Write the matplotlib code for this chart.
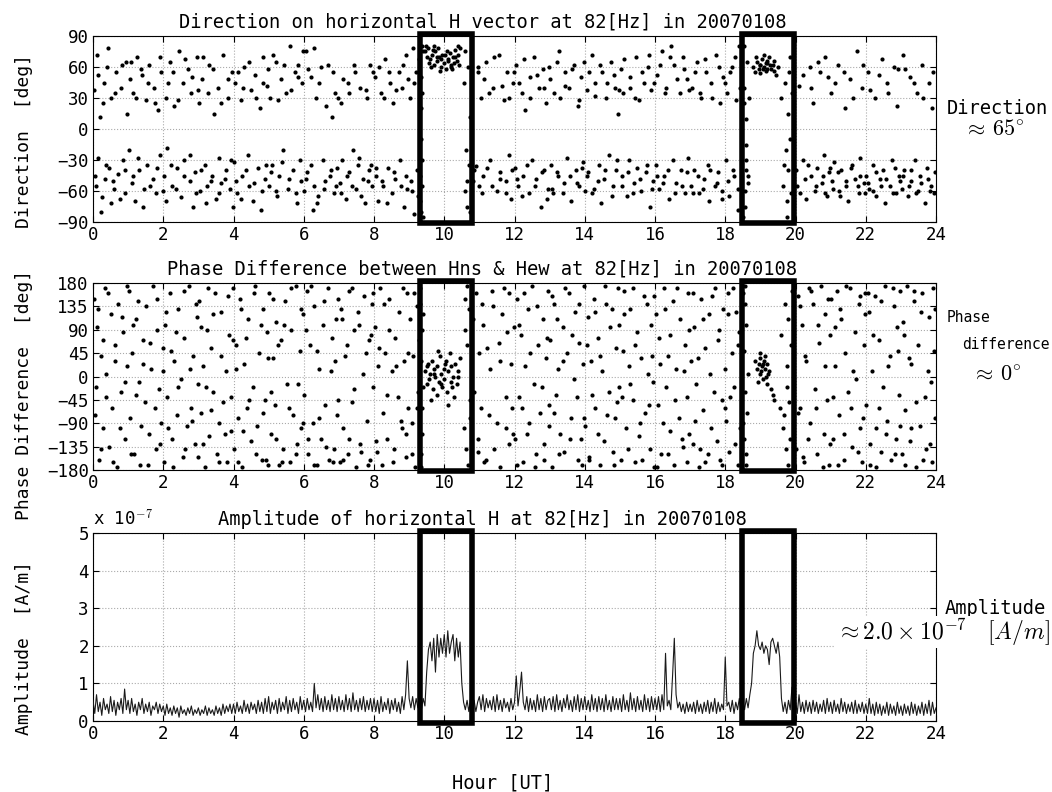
import numpy as np
import matplotlib.pyplot as plt
from matplotlib.patches import Rectangle

plt.rcParams['font.family'] = ['DejaVu Sans Mono']
plt.rcParams['mathtext.fontset'] = 'cm'

# --- direction of horizontal H vector [deg], (hour, deg) ---
dir_quiet = [
    (0.03, 38), (0.08, -55), (0.12, 72), (0.15, -28), (0.2, 12), (0.25, -66), (0.3, 45), (0.33, -48), (0.4, 60), (0.45, -38),
    (0.5, 30), (0.52, -72), (0.6, -58), (0.65, 55), (0.7, -44), (0.8, 40), (0.85, -30), (0.9, -62), (0.95, 65),
    (1.02, -20), (1.05, 48), (1.1, -52), (1.15, 35), (1.2, -70), (1.25, 70), (1.3, -40), (1.4, 52), (1.45, -58), (1.5, 28),
    (1.55, -35), (1.6, 62), (1.7, -48), (1.75, 40), (1.8, -62), (1.85, 18), (1.9, -25), (1.95, 55),
    (2.02, -45), (2.08, 30), (2.12, -18), (2.2, 65), (2.25, -55), (2.3, 22), (2.4, -38), (2.45, 75), (2.5, -66), (2.55, 45),
    (2.6, -30), (2.7, 58), (2.75, -50), (2.8, 35), (2.85, -75), (2.9, -42), (2.95, 70),
    (3.02, 25), (3.05, -60), (3.1, 48), (3.2, -35), (3.25, -55), (3.3, 62), (3.4, -45), (3.45, 15), (3.5, -68), (3.55, 40),
    (3.6, -28), (3.65, -52), (3.7, 72), (3.8, -40), (3.85, 30), (3.9, -58), (3.95, 55),
    (4.02, -32), (4.05, 45), (4.1, -62), (4.2, 28), (4.25, -45), (4.3, 60), (4.4, -25), (4.45, -55), (4.5, 38), (4.55, -70),
    (4.6, 52), (4.7, -38), (4.75, 20), (4.8, -60), (4.85, 70), (4.9, -48), (4.95, 42),
    (5.02, -55), (5.05, 30), (5.1, -35), (5.2, 65), (5.25, -65), (5.3, -45), (5.35, 48), (5.4, -20), (5.5, 35), (5.55, -58),
    (5.6, 80), (5.7, -40), (5.75, 55), (5.8, -72), (5.85, 62), (5.9, -30), (5.95, 45),
    (6.02, -60), (6.05, 75), (6.1, -42), (6.2, 50), (6.25, -78), (6.3, -55), (6.35, 30), (6.4, -65), (6.5, 60), (6.55, -30),
    (6.6, -50), (6.7, 62), (6.75, -45), (6.8, 12), (6.85, -62), (6.9, 35), (6.95, -38),
    (7.02, -52), (7.05, 25), (7.1, -30), (7.2, -68), (7.25, 45), (7.3, -42), (7.4, -20), (7.45, 55), (7.5, -58), (7.55, -35),
    (7.6, 40), (7.7, -48), (7.75, -72), (7.8, 30), (7.85, -40), (7.9, 62), (7.95, -55),
    (8.02, 50), (8.05, -45), (8.1, -70), (8.2, 35), (8.25, -55), (8.3, 68), (8.4, -38), (8.45, 45), (8.5, -62), (8.55, 25),
    (8.6, -48), (8.7, 55), (8.75, -30), (8.8, 40), (8.85, -75), (8.9, 72), (8.95, -58),
    (9.02, 30), (9.05, -50), (9.1, 78), (9.15, -82), (9.2, 55), (9.25, -65),
    (10.85, -40), (10.9, -36), (10.95, 55), (11.0, -55), (11.05, 30), (11.1, -45), (11.2, 65), (11.3, -30), (11.4, 40),
    (11.5, -60), (11.55, 72), (11.6, -42), (11.7, 28), (11.75, -50), (11.8, 55), (11.85, -25), (11.9, -68), (11.95, 45),
    (12.02, -38), (12.05, 62), (12.1, -55), (12.2, 35), (12.25, -45), (12.3, 18), (12.4, -62), (12.45, 50), (12.5, -30),
    (12.55, 70), (12.6, -48), (12.7, 40), (12.75, -75), (12.8, 58), (12.85, -40), (12.9, 25), (12.95, -58),
    (13.02, 48), (13.05, -35), (13.1, -62), (13.2, 65), (13.25, -45), (13.3, 30), (13.4, -52), (13.45, 55), (13.5, -28),
    (13.55, 40), (13.6, -70), (13.7, 62), (13.75, -40), (13.8, 22), (13.85, -55), (13.9, 50), (13.95, -32),
    (14.02, -60), (14.05, 38), (14.1, -42), (14.2, 72), (14.25, -58), (14.3, 45), (14.4, -35), (14.45, -72), (14.5, 55),
    (14.55, -48), (14.6, 30), (14.7, -25), (14.75, 65), (14.8, -55), (14.85, 40), (14.9, -40), (14.95, 15),
    (15.02, 58), (15.05, -45), (15.1, 35), (15.2, -65), (15.25, -30), (15.3, 50), (15.4, -52), (15.45, 70), (15.5, -38),
    (15.55, 28), (15.6, -60), (15.7, 45), (15.75, -42), (15.8, 60), (15.85, -75), (15.9, 38), (15.95, -50),
    (16.02, -35), (16.05, 52), (16.1, -58), (16.2, 75), (16.25, -45), (16.3, 40), (16.4, -68), (16.45, 80), (16.5, -30),
    (16.55, 62), (16.6, -52), (16.7, 35), (16.75, -40), (16.8, 70), (16.85, -62), (16.9, 48), (16.95, -28),
    (17.02, -55), (17.05, 40), (17.1, -40), (17.2, 65), (17.25, -62), (17.3, 30), (17.4, -48), (17.45, 55), (17.5, -35),
    (17.55, -70), (17.6, 45), (17.7, -55), (17.75, 72), (17.8, -42), (17.85, 25), (17.9, -60), (17.95, 50),
    (18.02, -30), (18.05, 35), (18.1, -65), (18.2, 60), (18.25, -45), (18.3, 28), (18.35, -78), (18.4, 80),
    (20.05, -55), (20.1, 42), (20.2, -30), (20.3, -68), (20.4, 60), (20.45, -45), (20.5, 25), (20.55, -60), (20.6, -38),
    (20.7, 55), (20.75, -52), (20.8, -25), (20.85, 70), (20.9, -65), (20.95, -42),
    (21.02, 35), (21.05, -50), (21.1, -32), (21.2, 62), (21.25, -60), (21.3, -40), (21.4, 20), (21.45, -55), (21.5, -70),
    (21.55, 48), (21.6, -35), (21.7, -48), (21.75, 75), (21.8, -62), (21.85, -28), (21.9, 40), (21.95, -52),
    (22.02, -45), (22.05, 55), (22.1, -58), (22.2, -35), (22.25, 30), (22.3, -65), (22.4, -48), (22.45, 68), (22.5, -40),
    (22.55, -72), (22.6, 45), (22.7, -55), (22.75, -30), (22.8, 60), (22.85, -62), (22.9, 22), (22.95, -45),
    (23.02, -58), (23.05, 72), (23.1, -40), (23.2, -65), (23.25, 50), (23.3, -50), (23.4, -30), (23.45, 35), (23.5, -60),
    (23.55, -45), (23.6, 62), (23.7, -72), (23.75, -38), (23.8, 45), (23.85, -55), (23.9, 20), (23.95, -62),
]
dir_quiet_b = [
    (0.07, -45), (0.13, 52), (0.22, -80), (0.28, 25), (0.37, -35), (0.43, 78), (0.58, -50), (0.63, 35), (0.77, -68),
    (0.83, 62), (0.92, -40), (0.98, 15), (1.07, 65), (1.13, -45), (1.22, 30), (1.28, -28), (1.37, 58), (1.43, -75),
    (1.58, 45), (1.63, -55), (1.77, 25), (1.83, -38), (1.92, 70), (1.98, -60), (2.07, -70), (2.13, 45), (2.22, -35),
    (2.28, 55), (2.37, -58), (2.43, 28), (2.58, -45), (2.63, 68), (2.77, -25), (2.83, 50), (2.92, -62), (2.98, 38),
    (3.07, -40), (3.13, 70), (3.22, -72), (3.28, 35), (3.37, -50), (3.43, 58), (3.58, -62), (3.63, 25), (3.77, -48),
    (3.83, 48), (3.92, -30), (3.98, -75), (4.07, -50), (4.13, 55), (4.22, -68), (4.28, 40), (4.37, -40), (4.43, 65),
    (4.58, -52), (4.63, 30), (4.77, -78), (4.83, 45), (4.92, -35), (4.98, 58), (5.07, -42), (5.13, 72), (5.22, -60),
    (5.28, 28), (5.37, -32), (5.43, 62), (5.58, -48), (5.63, 38), (5.77, -62), (5.83, 50), (5.92, -50), (5.98, 75),
    (6.07, -48), (6.13, 58), (6.22, -35), (6.28, 78), (6.37, -72), (6.43, 45), (6.58, -58), (6.63, 22), (6.77, -40),
    (6.83, 55), (6.92, -55), (6.98, 30), (7.07, -62), (7.13, 48), (7.22, -45), (7.28, 35), (7.37, -55), (7.43, 62),
    (7.58, -28), (7.63, -65), (7.77, 38), (7.83, -50), (7.92, -35), (7.98, 55), (8.07, -38), (8.13, 60), (8.22, -50),
    (8.28, 30), (8.37, -72), (8.43, 55), (8.58, -42), (8.63, 38), (8.77, -55), (8.83, 62), (8.92, -45), (8.98, 48),
    (9.07, -60), (9.13, 45), (9.22, -40), (9.27, 68), (10.83, -50), (10.97, 60),
    (11.07, -62), (11.13, 48), (11.22, -38), (11.28, 35), (11.37, -55), (11.43, 70), (11.58, -48), (11.63, 42),
    (11.77, -62), (11.83, 30), (11.92, -40), (11.98, 55), (12.07, -48), (12.13, 45), (12.22, -65), (12.28, 68),
    (12.37, -35), (12.43, 30), (12.58, -55), (12.63, 52), (12.77, -42), (12.83, 40), (12.92, -68), (12.98, 60),
    (13.07, -58), (13.13, 35), (13.22, -42), (13.28, 75), (13.37, -62), (13.43, 42), (13.58, -45), (13.63, 58),
    (13.77, -52), (13.83, 28), (13.92, -38), (13.98, 65), (14.07, -45), (14.13, 55), (14.22, -62), (14.28, 32),
    (14.37, -50), (14.43, 62), (14.58, -40), (14.63, 45), (14.77, -65), (14.83, 52), (14.92, -30), (14.98, 38),
    (15.07, -55), (15.13, 68), (15.22, -42), (15.28, 40), (15.37, -62), (15.43, 30), (15.58, -48), (15.63, 55),
    (15.77, -35), (15.83, 72), (15.92, -58), (15.98, 45), (16.07, -45), (16.13, 62), (16.22, -52), (16.28, 35),
    (16.37, -40), (16.43, 70), (16.58, -62), (16.63, 48), (16.77, -55), (16.83, 58), (16.92, -42), (16.98, 38),
    (17.07, -62), (17.13, 55), (17.22, -45), (17.28, 35), (17.37, -58), (17.43, 68), (17.58, -40), (17.63, 30),
    (17.77, -52), (17.83, 60), (17.92, -68), (17.98, 45), (18.07, -50), (18.13, 55), (18.22, -40), (18.28, 70),
    (18.37, -58), (18.43, 40), (20.0, -40), (20.13, -62), (20.22, 52), (20.28, -48), (20.37, -35), (20.43, 40),
    (20.58, -55), (20.63, 65), (20.77, -45), (20.83, -62), (20.92, 50), (20.98, -38), (21.07, -58), (21.13, 45),
    (21.22, -42), (21.28, -65), (21.37, 55), (21.43, -50), (21.58, -38), (21.63, 30), (21.77, -55), (21.83, -45),
    (21.92, 62), (21.98, -62), (22.07, -52), (22.13, 38), (22.22, -60), (22.28, -42), (22.37, 52), (22.43, -55),
    (22.58, -48), (22.63, 35), (22.77, -62), (22.83, -38), (22.92, 58), (22.98, -50), (23.07, -45), (23.13, 58),
    (23.22, -55), (23.28, -40), (23.37, 45), (23.43, -62), (23.58, -52), (23.63, 30), (23.77, -48), (23.83, -60),
    (23.92, 55), (23.98, -42),
]
dir_event1 = [
    (9.32, -70), (9.34, 50), (9.36, -30), (9.38, 80), (9.35, -10), (9.4, -85), (9.33, 20), (9.37, -55), (9.39, 75),
    (9.31, -45), (9.36, 35), (9.34, -80),
    (9.45, 75), (9.5, 70), (9.55, 78), (9.6, 68), (9.65, 72), (9.7, 62), (9.75, 75), (9.8, 66), (9.85, 70), (9.9, 60),
    (9.95, 72), (10.0, 64), (10.05, 58), (10.1, 68), (10.15, 74), (10.2, 62), (10.25, 70), (10.3, 76), (10.35, 66),
    (10.4, 72), (10.45, 78), (9.58, 64), (9.72, 80), (9.88, 56), (10.08, 75), (10.22, 58), (10.38, 80), (9.62, 60),
    (9.78, 70), (10.12, 66), (10.28, 64), (9.48, 80), (9.68, 76), (9.92, 68), (10.02, 72), (10.18, 60), (10.32, 70),
    (10.42, 62), (9.82, 78),
    (10.55, 45), (10.6, -60), (10.65, -75), (10.68, 60), (10.7, -35), (10.72, 12), (10.62, -20), (10.74, -80),
    (10.58, 75), (10.66, -50),
]
dir_event2 = [
    (18.5, -85), (18.52, 40), (18.55, -60), (18.58, 10), (18.6, -30), (18.62, 65), (18.65, -45), (18.52, 25),
    (18.56, -75), (18.6, -15), (18.64, -52), (18.68, 30), (18.54, 80), (18.58, -40),
    (18.8, 60), (18.85, 55), (18.9, 65), (18.95, 58), (19.0, 62), (19.05, 68), (19.1, 60), (19.15, 56), (19.2, 64),
    (19.25, 70), (19.3, 58), (19.35, 62), (19.4, 66), (19.45, 52), (19.0, 54), (19.1, 72), (19.2, 58), (18.88, 70),
    (19.5, 60), (19.15, 64), (18.98, 62), (19.08, 58), (19.18, 66), (19.28, 62), (19.38, 56),
    (19.6, 30), (19.65, -55), (19.7, 45), (19.72, -20), (19.75, -70), (19.78, 15), (19.8, -40), (19.82, 55),
    (19.85, -10), (19.88, -62), (19.9, 35), (19.68, -35), (19.76, -85), (19.84, 70),
]

# --- phase difference between Hns and Hew [deg], (hour, deg) ---
phase_quiet = [
    (0.03, 150), (0.08, -20), (0.12, 95), (0.18, -160), (0.22, 40), (0.28, -100), (0.33, 170), (0.38, 5), (0.45, -135),
    (0.5, 120), (0.55, -60), (0.62, 60), (0.68, -175), (0.72, 140), (0.8, -30), (0.85, 85), (0.9, -120), (0.96, 20),
    (1.02, 165), (1.06, -80), (1.12, 45), (1.18, -150), (1.22, 110), (1.3, -10), (1.35, -170), (1.42, 70), (1.48, -50),
    (1.52, 135), (1.6, -110), (1.65, 15), (1.7, 175), (1.78, -140), (1.82, 90), (1.88, -25), (1.95, -90), (1.98, 55),
    (2.02, -165), (2.06, 100), (2.12, -40), (2.2, 160), (2.25, -120), (2.3, 30), (2.38, -75), (2.42, 130), (2.5, -5),
    (2.55, -155), (2.6, 75), (2.68, -95), (2.72, 175), (2.8, -60), (2.85, 40), (2.9, -130), (2.95, 115), (2.98, -15),
    (3.02, 145), (3.08, -70), (3.12, 20), (3.18, -175), (3.25, 90), (3.3, -115), (3.35, 55), (3.42, -30), (3.48, 160),
    (3.52, -150), (3.6, -90), (3.65, 125), (3.7, -50), (3.78, 10), (3.82, -165), (3.88, 80), (3.92, -105), (3.98, 170),
    (4.02, -140), (4.08, 60), (4.12, -80), (4.18, 150), (4.25, -175), (4.3, 25), (4.38, -60), (4.42, 110), (4.5, -125),
    (4.55, -20), (4.6, 175), (4.68, -95), (4.72, 45), (4.8, -160), (4.85, 130), (4.9, -45), (4.95, 85), (4.98, -170),
    (5.02, 160), (5.06, -110), (5.12, 35), (5.18, -55), (5.22, 105), (5.3, -170), (5.35, 70), (5.42, -140), (5.48, 145),
    (5.52, -15), (5.6, -165), (5.65, 90), (5.7, -75), (5.78, 175), (5.82, -130), (5.88, 50), (5.92, -100), (5.98, 120),
    (6.02, -35), (6.08, 165), (6.12, -150), (6.18, 60), (6.25, -90), (6.3, 135), (6.38, -170), (6.42, 15), (6.5, -120),
    (6.55, 100), (6.6, -55), (6.68, 170), (6.72, -160), (6.8, 75), (6.85, -140), (6.9, 30), (6.95, -75), (6.98, 150),
    (7.02, -165), (7.08, 110), (7.12, -100), (7.18, 40), (7.25, -150), (7.3, 165), (7.38, -50), (7.42, 90), (7.5, -175),
    (7.55, 125), (7.6, -130), (7.68, 5), (7.72, 155), (7.8, -85), (7.85, 70), (7.9, -160), (7.95, 140), (7.98, -20),
    (8.02, 95), (8.08, -145), (8.12, 20), (8.18, 170), (8.25, -70), (8.3, 45), (8.38, -120), (8.42, 150), (8.5, 10),
    (8.55, -165), (8.6, 75), (8.68, -40), (8.72, 125), (8.8, -100), (8.85, 30), (8.9, -155), (8.95, 160), (8.98, -60),
    (9.02, 110), (9.08, -90), (9.12, 40), (9.18, -175), (9.22, 135), (9.26, -30),
    (10.85, -30), (10.9, 160), (10.95, -120), (11.0, 45), (11.05, -60), (11.1, 100), (11.2, -160), (11.3, 15),
    (11.4, 135), (11.5, -90), (11.55, 65), (11.6, -175), (11.7, 170), (11.75, -40), (11.8, 85), (11.85, -130),
    (11.9, 25), (11.95, -110),
    (12.02, -120), (12.08, 150), (12.12, -40), (12.18, 80), (12.25, -165), (12.3, 20), (12.38, 130), (12.42, -90),
    (12.5, 175), (12.55, -15), (12.6, -150), (12.68, 60), (12.72, -70), (12.8, 110), (12.85, -130), (12.9, 35),
    (12.95, 165), (12.98, -55),
    (13.02, 70), (13.08, -175), (13.12, 140), (13.18, -35), (13.25, 15), (13.3, -110), (13.38, 95), (13.42, -145),
    (13.5, 45), (13.55, 160), (13.6, -80), (13.68, -5), (13.72, 125), (13.8, -160), (13.85, 65), (13.9, -120),
    (13.95, 25), (13.98, 175),
    (14.02, -95), (14.08, 115), (14.12, -155), (14.18, 30), (14.25, 150), (14.3, -60), (14.38, 75), (14.42, -170),
    (14.5, 10), (14.55, -125), (14.6, 140), (14.68, -30), (14.72, 95), (14.8, -145), (14.85, -80), (14.9, 55),
    (14.95, 170), (14.98, -20),
    (15.02, -160), (15.08, 50), (15.12, 165), (15.18, -100), (15.25, 20), (15.3, 130), (15.38, -45), (15.42, -165),
    (15.5, 85), (15.55, -115), (15.6, 35), (15.68, 155), (15.72, -70), (15.8, 5), (15.85, -140), (15.9, 100),
    (15.95, -10), (15.98, -175),
    (16.02, 120), (16.08, -55), (16.12, 75), (16.18, -150), (16.25, 170), (16.3, -20), (16.38, 40), (16.42, -105),
    (16.5, 145), (16.55, -170), (16.6, 15), (16.68, -80), (16.72, 110), (16.8, -135), (16.85, 60), (16.9, -40),
    (16.95, 160), (16.98, -110),
    (17.02, 30), (17.08, -130), (17.12, 95), (17.18, -15), (17.25, -175), (17.3, 150), (17.38, -65), (17.42, 55),
    (17.5, -150), (17.55, 120), (17.6, -100), (17.68, -30), (17.72, 170), (17.8, 70), (17.85, -160), (17.9, -45),
    (17.95, 130), (17.98, 15),
    (18.02, -85), (18.08, 160), (18.12, -145), (18.18, 45), (18.25, -20), (18.3, 125), (18.36, -170), (18.4, 85),
    (20.02, -140), (20.08, 155), (20.12, -60), (20.18, 100), (20.25, -165), (20.3, 30), (20.38, 170), (20.42, -90),
    (20.5, 140), (20.55, -25), (20.6, -150), (20.68, 65), (20.72, 175), (20.8, -110), (20.85, 120), (20.9, -45),
    (20.95, -170), (20.98, 80),
    (21.02, 150), (21.08, -120), (21.12, 20), (21.18, 165), (21.25, -75), (21.3, 110), (21.38, -160), (21.42, 45),
    (21.5, -30), (21.55, 170), (21.6, -135), (21.68, 85), (21.72, -5), (21.8, 140), (21.85, -100), (21.9, -165),
    (21.95, 60), (21.98, 160),
    (22.02, -55), (22.08, 125), (22.12, -170), (22.18, 10), (22.25, 155), (22.3, -100), (22.38, 70), (22.42, -145),
    (22.5, -20), (22.55, 175), (22.6, -85), (22.68, 40), (22.72, -160), (22.8, 135), (22.85, -120), (22.9, 95),
    (22.95, -35), (22.98, 165),
    (23.02, -150), (23.08, 80), (23.12, -65), (23.18, 175), (23.25, -125), (23.3, 25), (23.38, 145), (23.42, -175),
    (23.5, 60), (23.55, -95), (23.6, 160), (23.68, -40), (23.72, -140), (23.8, 115), (23.85, -10), (23.9, -165),
    (23.95, 50), (23.98, 130),
]
phase_quiet_b = [
    (0.07, -75), (0.13, 130), (0.22, -140), (0.28, 70), (0.37, -40), (0.43, 160), (0.58, -165), (0.63, 30),
    (0.77, -100), (0.83, 115), (0.92, -10), (0.98, 175), (1.07, -150), (1.13, 100), (1.22, -35), (1.28, 145),
    (1.37, -95), (1.43, 25), (1.58, -170), (1.63, 65), (1.77, -60), (1.83, 150), (1.92, -130), (1.98, 10),
    (2.07, 125), (2.13, -100), (2.22, 50), (2.28, -175), (2.37, 85), (2.43, -20), (2.58, 165), (2.63, -140),
    (2.77, 15), (2.83, -85), (2.92, 140), (2.98, -155), (3.07, 95), (3.13, -130), (3.22, -20), (3.28, 170),
    (3.37, -65), (3.43, 120), (3.58, -165), (3.63, 40), (3.77, -110), (3.83, 155), (3.92, -40), (3.98, 70),
    (4.07, 15), (4.13, -165), (4.22, 130), (4.28, -105), (4.37, 75), (4.43, -45), (4.58, 160), (4.63, -150),
    (4.77, 100), (4.83, -70), (4.92, -160), (4.98, 35), (5.07, -30), (5.13, 150), (5.22, -120), (5.28, 60),
    (5.37, -165), (5.43, 100), (5.58, -60), (5.63, 170), (5.77, -150), (5.83, -15), (5.92, 130), (5.98, -90),
    (6.07, 90), (6.13, -120), (6.22, 175), (6.28, -170), (6.37, 50), (6.43, -80), (6.58, 145), (6.63, -135),
    (6.77, 10), (6.83, -165), (6.92, 110), (6.98, -45), (7.07, 130), (7.13, -160), (7.22, 60), (7.28, -120),
    (7.37, 170), (7.43, -25), (7.58, 100), (7.63, -145), (7.77, 45), (7.83, -170), (7.92, 80), (7.98, 160),
    (8.07, -125), (8.13, 55), (8.22, -170), (8.28, 140), (8.37, -35), (8.43, 90), (8.58, -140), (8.63, 20),
    (8.77, -85), (8.83, 170), (8.92, -110), (8.98, 45), (9.07, -150), (9.13, 160), (9.22, -60), (9.27, 70),
    (10.83, 110), (10.97, -145),
    (11.07, 140), (11.13, -165), (11.22, 55), (11.28, -75), (11.37, 165), (11.43, -140), (11.58, 30), (11.63, 120),
    (11.77, -100), (11.83, 160), (11.92, -60), (11.98, 95), (12.07, -170), (12.13, 100), (12.22, -60), (12.28, 160),
    (12.37, -110), (12.43, 45), (12.58, -175), (12.63, 135), (12.77, -20), (12.83, -160), (12.92, 75), (12.98, -95),
    (13.07, 155), (13.13, -70), (13.22, 110), (13.28, -150), (13.37, 30), (13.43, 170), (13.58, -120), (13.63, 80),
    (13.77, -40), (13.83, 140), (13.92, -170), (13.98, -80), (14.07, 60), (14.13, -160), (14.22, -35), (14.28, 125),
    (14.37, -110), (14.43, 40), (14.58, 175), (14.63, -75), (14.77, 130), (14.83, -170), (14.92, -50), (14.98, 100),
    (15.07, -40), (15.13, 120), (15.22, -140), (15.28, -15), (15.37, 170), (15.43, 60), (15.58, -90), (15.63, -160),
    (15.77, 140), (15.83, -55), (15.92, 40), (15.98, 155), (16.07, -175), (16.13, 25), (16.22, -90), (16.28, 130),
    (16.37, -150), (16.43, 80), (16.58, -45), (16.63, 170), (16.77, -120), (16.83, 10), (16.92, -165), (16.98, 90),
    (17.07, 160), (17.13, -85), (17.22, 35), (17.28, -140), (17.37, 110), (17.43, -165), (17.58, 5), (17.63, 155),
    (17.77, -125), (17.83, 90), (17.92, -170), (17.98, -60), (18.07, 120), (18.13, -40), (18.22, 170), (18.28, -130),
    (18.37, 60), (18.43, -100),
    (20.07, -70), (20.13, 135), (20.22, -155), (20.28, 40), (20.37, -120), (20.43, 165), (20.58, -60), (20.63, 100),
    (20.77, -175), (20.83, 20), (20.92, 150), (20.98, -130), (21.07, -40), (21.13, 95), (21.22, -170), (21.28, 130),
    (21.37, -110), (21.43, 175), (21.58, -60), (21.63, 10), (21.77, -145), (21.83, 155), (21.92, -80), (21.98, 120),
    (22.07, 160), (22.13, -130), (22.22, 80), (22.28, -175), (22.37, -60), (22.43, 145), (22.58, -110), (22.63, 20),
    (22.77, 170), (22.83, -150), (22.92, 50), (22.98, -95), (23.07, 105), (23.13, -170), (23.22, 35), (23.28, -100),
    (23.37, 165), (23.43, -50), (23.58, 125), (23.63, -160), (23.77, 10), (23.83, -130), (23.92, 170), (23.98, -80),
]
phase_event1 = [
    (9.32, 170), (9.34, -150), (9.36, 90), (9.38, -60), (9.4, 120), (9.35, -175), (9.33, 30), (9.37, -110),
    (9.31, 140), (9.39, -20),
    (9.45, 10), (9.5, -15), (9.55, 25), (9.58, -5), (9.6, 5), (9.65, 30), (9.68, -25), (9.7, 15), (9.75, 0),
    (9.78, -35), (9.8, 20), (9.85, -10), (9.88, 40), (9.9, 5), (9.95, -20), (9.98, 15), (10.0, -5), (10.05, 30),
    (10.08, -30), (10.1, 10), (10.15, 45), (10.18, -10), (10.2, 20), (10.25, 0), (10.28, -40), (10.3, 25),
    (10.35, -15), (10.4, 10), (10.45, 35), (9.62, -45), (10.12, -55), (9.82, 50), (9.52, 20), (9.72, 5),
    (9.92, -15), (10.02, 25), (10.22, -20), (10.38, 0),
    (10.55, -100), (10.6, 150), (10.62, -140), (10.66, 60), (10.68, -170), (10.7, 130), (10.73, -80), (10.58, 90),
    (10.64, 175), (10.72, -45),
]
phase_event2 = [
    (18.5, 160), (18.52, -120), (18.54, 50), (18.56, -30), (18.58, 100), (18.6, -170), (18.62, -70), (18.55, 140),
    (18.6, -150), (18.65, 5), (18.51, -90), (18.57, 175),
    (18.85, 30), (18.9, 15), (18.95, 25), (18.98, 5), (19.0, 35), (19.03, 10), (19.05, 20), (19.08, -5), (19.1, 30),
    (19.13, 15), (19.15, 0), (19.18, 25), (19.2, -15), (19.25, 10), (19.3, -25), (19.35, -35), (19.0, 45),
    (18.92, -10), (19.4, -45), (19.12, 40), (19.07, 25), (19.22, 5),
    (19.55, -60), (19.6, 80), (19.65, -100), (19.7, 140), (19.72, -140), (19.75, 20), (19.78, -170), (19.8, 110),
    (19.82, -50), (19.85, -120), (19.88, 60), (19.9, 165), (19.68, -75), (19.76, -20),
]

# --- amplitude of horizontal H [1e-7 A/m], sampled every 0.05 h from 0 to 24 ---
amp_1e7 = [
    0.55, 0.2, 0.7, 0.25, 0.5, 0.15, 0.6, 0.3, 0.45, 0.2, 0.65, 0.25, 0.55, 0.15, 0.5, 0.3, 0.6, 0.2, 0.85, 0.3,
    0.55, 0.2, 0.6, 0.25, 0.45, 0.15, 0.5, 0.3, 0.6, 0.2, 0.45, 0.25, 0.5, 0.15, 0.4, 0.3, 0.5, 0.2, 0.45, 0.25,
    0.4, 0.15, 0.45, 0.2, 0.35, 0.15, 0.4, 0.2, 0.35, 0.1, 0.4, 0.2, 0.3, 0.15, 0.35, 0.2, 0.4, 0.15, 0.3, 0.2,
    0.35, 0.15, 0.3, 0.2, 0.4, 0.15, 0.35, 0.2, 0.3, 0.15, 0.4, 0.2, 0.35, 0.15, 0.45, 0.2, 0.4, 0.25, 0.45, 0.2,
    0.45, 0.2, 0.5, 0.25, 0.4, 0.2, 0.55, 0.25, 0.45, 0.2, 0.5, 0.3, 0.45, 0.2, 0.55, 0.25, 0.5, 0.2, 0.6, 0.25,
    0.65, 0.2, 0.5, 0.3, 0.55, 0.2, 0.6, 0.25, 0.5, 0.3, 0.65, 0.2, 0.55, 0.25, 0.6, 0.3, 0.5, 0.2, 0.65, 0.3,
    0.55, 0.25, 0.6, 0.3, 0.5, 0.25, 1.0, 0.35, 0.7, 0.3, 0.6, 0.25, 0.65, 0.3, 0.55, 0.25, 0.7, 0.3, 0.6, 0.25,
    0.65, 0.3, 0.55, 0.25, 0.7, 0.3, 0.6, 0.25, 0.75, 0.3, 0.55, 0.25, 0.6, 0.3, 0.65, 0.25, 0.55, 0.3, 0.6, 0.25,
    0.6, 0.25, 0.55, 0.2, 0.65, 0.25, 0.5, 0.3, 0.6, 0.2, 0.55, 0.3, 0.6, 0.25, 0.5, 0.2, 0.65, 0.3, 0.7, 1.6,
    0.6, 0.35, 0.65, 0.3, 0.6, 0.35, 0.55, 0.3, 0.6, 0.4, 1.3, 1.9, 2.1, 1.6, 2.2, 1.3, 2.3, 1.7, 2.2, 1.8,
    2.3, 1.7, 2.4, 1.8, 2.1, 2.3, 1.6, 2.2, 1.7, 2.1, 1.0, 0.5, 0.3, 0.55, 0.25, 0.6, 0.3, 0.55, 0.25, 0.5,
    0.65, 0.3, 0.7, 0.25, 0.6, 0.35, 0.55, 0.3, 0.65, 0.25, 0.7, 0.3, 0.55, 0.25, 0.6, 0.35, 0.5, 0.25, 0.6, 0.3,
    0.5, 1.2, 0.4, 0.8, 1.3, 0.5, 0.3, 0.65, 0.25, 0.6, 0.3, 0.55, 0.25, 0.7, 0.3, 0.6, 0.25, 0.65, 0.3, 0.55,
    0.6, 0.3, 0.65, 0.25, 0.7, 0.3, 0.55, 0.25, 0.6, 0.35, 0.7, 0.3, 0.55, 0.25, 0.65, 0.3, 0.7, 0.25, 0.6, 0.3,
    0.65, 0.3, 0.55, 0.25, 0.7, 0.3, 0.6, 0.25, 0.65, 0.3, 0.6, 0.25, 0.7, 0.3, 0.55, 0.25, 0.65, 0.3, 0.6, 0.3,
    0.6, 0.25, 0.7, 0.3, 0.55, 0.25, 0.75, 0.3, 0.6, 0.25, 0.65, 0.3, 0.55, 0.25, 0.7, 0.3, 0.6, 0.25, 0.65, 0.3,
    0.6, 0.3, 0.65, 0.25, 0.7, 0.3, 1.8, 0.4, 0.55, 0.3, 1.2, 2.2, 0.7, 0.35, 0.5, 0.25, 0.45, 0.2, 0.5, 0.25,
    0.45, 0.25, 0.5, 0.2, 0.55, 0.25, 0.45, 0.2, 0.5, 0.25, 0.55, 0.2, 0.5, 0.25, 0.6, 0.2, 0.5, 0.25, 0.45, 0.3,
    1.7, 0.4, 0.5, 0.25, 0.55, 0.2, 0.5, 0.3, 0.6, 0.25, 0.55, 0.3, 0.6, 0.35, 0.7, 1.0, 1.8, 2.0, 2.4, 2.0,
    1.9, 2.1, 1.8, 2.0, 1.9, 1.5, 2.1, 2.2, 2.0, 1.8, 2.1, 1.7, 0.6, 0.25, 0.5, 0.2, 0.55, 0.3, 0.9, 0.4,
    0.55, 0.2, 0.7, 0.25, 0.5, 0.2, 0.55, 0.25, 0.5, 0.2, 0.55, 0.25, 0.5, 0.2, 0.45, 0.25, 0.55, 0.2, 0.6, 0.25,
    0.5, 0.2, 0.55, 0.25, 0.45, 0.2, 0.6, 0.25, 0.5, 0.2, 0.45, 0.25, 0.5, 0.2, 0.55, 0.2, 0.45, 0.25, 0.5, 0.2,
    0.45, 0.2, 0.6, 0.2, 0.45, 0.15, 0.5, 0.2, 0.45, 0.15, 0.4, 0.2, 0.5, 0.15, 0.45, 0.2, 0.4, 0.15, 0.5, 0.2,
    0.4, 0.15, 0.45, 0.2, 0.4, 0.15, 0.5, 0.2, 0.45, 0.15, 0.4, 0.2, 0.5, 0.15, 0.45, 0.2, 0.55, 0.15, 0.5, 0.2,
    0.35,
]

event_windows = [(9.3, 10.78), (18.47, 19.95)]
hour_ticks = list(range(0, 25, 2))

fig = plt.figure(figsize=(10.52, 7.92), dpi=100)
L, W = 93 / 1052, (936 - 93) / 1052
ax1 = fig.add_axes([L, 1 - 222 / 792, W, 186 / 792])
ax2 = fig.add_axes([L, 1 - 470 / 792, W, 187 / 792])
ax3 = fig.add_axes([L, 1 - 721 / 792, W, 188 / 792])


def style(ax, ylim, yticks, title, ylabel, label_y):
    ax.set_xlim(0, 24)
    ax.set_ylim(*ylim)
    ax.set_xticks(hour_ticks)
    ax.set_yticks(yticks)
    ax.tick_params(direction='in', top=True, right=True, length=4, labelsize=12.5, pad=3)
    ax.grid(True, linestyle=':', color='#aaaaaa', linewidth=0.8)
    ax.set_title(title, fontsize=13.5, pad=6, x=0.462)
    ax.set_ylabel(ylabel, fontsize=13)
    ax.yaxis.set_label_coords(-0.071, label_y)
    span = ylim[1] - ylim[0]
    for a, b in event_windows:
        ax.add_patch(Rectangle((a, ylim[0] - 0.008 * span), b - a, 1.02 * span, fill=False,
                               lw=4, ec='black', clip_on=False, zorder=5))


for pts in (dir_quiet, dir_quiet_b, dir_event1, dir_event2):
    t, v = zip(*pts)
    ax1.scatter(t, v, s=9, c='black', linewidths=0, zorder=3)
style(ax1, (-90, 90), range(-90, 91, 30),
      'Direction on horizontal H vector at 82[Hz] in 20070108', 'Direction  [deg]', 0.435)

for pts in (phase_quiet, phase_quiet_b, phase_event1, phase_event2):
    t, v = zip(*pts)
    ax2.scatter(t, v, s=9, c='black', linewidths=0, zorder=3)
style(ax2, (-180, 180), range(-180, 181, 45),
      'Phase Difference between Hns & Hew at 82[Hz] in 20070108', 'Phase Difference  [deg]', 0.40)

amp_t = np.linspace(0, 24, len(amp_1e7))
ax3.plot(amp_t, amp_1e7, color='#1a1a1a', lw=0.8, zorder=3)
style(ax3, (0, 5), range(0, 6),
      'Amplitude of horizontal H at 82[Hz] in 20070108', 'Amplitude  [A/m]', 0.39)
ax3.set_xlabel('Hour [UT]', fontsize=13.5, labelpad=22, x=0.486)
ax3.text(0.0, 1.02, r'x 10$^{-7}$', transform=ax3.transAxes, fontsize=12.5, ha='left', va='bottom')

fig.text(947 / 1052, 1 - 108 / 792, 'Direction', fontsize=13.5, ha='left', va='center')
fig.text(994 / 1052, 1 - 129 / 792, r'$\approx\,65^{\circ}$', fontsize=16, ha='center', va='center')
fig.text(947 / 1052, 1 - 318 / 792, 'Phase', fontsize=10.5, ha='left', va='center')
fig.text(962 / 1052, 1 - 345 / 792, 'difference', fontsize=10.5, ha='left', va='center')
fig.text(997 / 1052, 1 - 375 / 792, r'$\approx\,0^{\circ}$', fontsize=16, ha='center', va='center')
fig.text(945 / 1052, 1 - 608 / 792, 'Amplitude', fontsize=13.5, ha='left', va='center')
fig.text(1050 / 1052, 1 - 632 / 792, r'$\approx 2.0 \times 10^{-7}\quad [A/m]$', fontsize=17,
         ha='right', va='center', bbox=dict(fc='white', ec='none', pad=0.5))

fig.savefig('out.png', dpi=100)
